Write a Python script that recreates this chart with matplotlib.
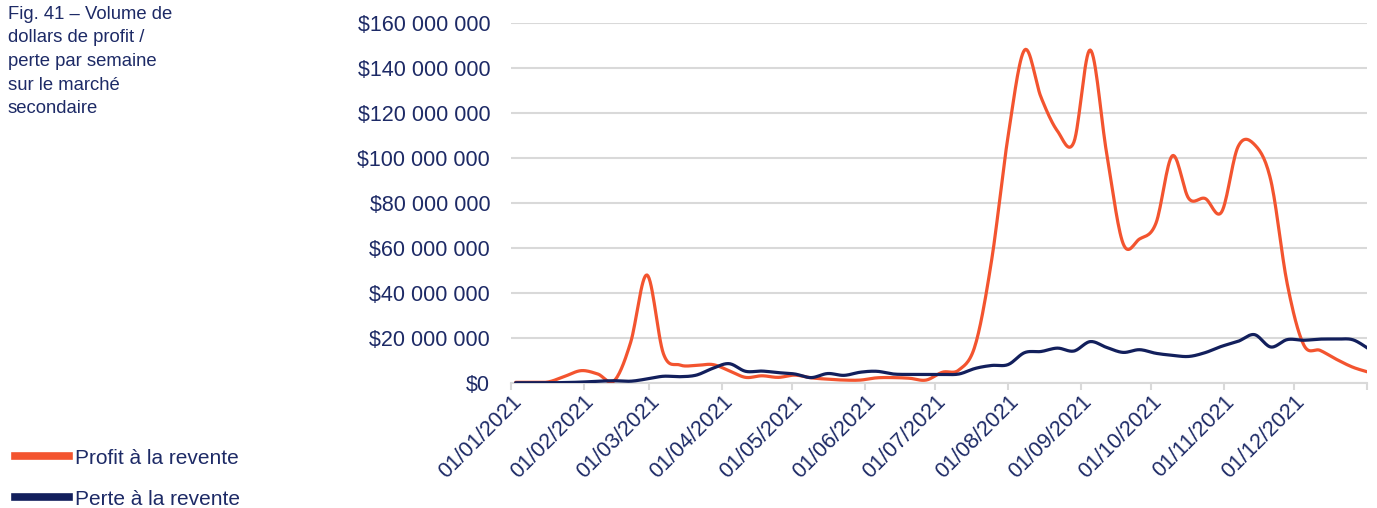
"""Weekly dollar volume of resale profit / loss on the secondary market (2021)."""

import matplotlib

matplotlib.use("Agg")
import matplotlib.dates as mdates  # noqa: E402
import matplotlib.pyplot as plt  # noqa: E402
import numpy as np  # noqa: E402
import pandas as pd  # noqa: E402
from matplotlib.lines import Line2D  # noqa: E402

# weekly values, in millions of dollars
weeks = pd.date_range("2021-01-03", periods=53, freq="7D")
profit = [0.3, 0.3, 0.5, 3.0, 5.5, 4.0, 1.0, 18.0, 48.0, 13.0,
          8.0, 7.8, 8.2, 5.5, 2.5, 3.2, 2.5, 3.5, 2.3, 1.7,
          1.3, 1.3, 2.3, 2.4, 2.1, 1.3, 4.8, 5.8, 17.0, 55.0,
          110.0, 148.0, 127.0, 112.0, 107.0, 148.0, 102.0, 62.0, 64.0, 71.0,
          101.0, 82.0, 82.0, 76.0, 105.0, 106.0, 90.0, 44.0, 17.0, 14.5,
          10.5, 7.0, 4.7]
loss = [0.1, 0.1, 0.1, 0.2, 0.4, 0.8, 1.0, 0.8, 1.8, 3.0,
        2.8, 3.5, 6.5, 8.6, 5.2, 5.3, 4.6, 4.0, 2.4, 4.2,
        3.4, 4.8, 5.2, 4.0, 3.8, 3.8, 3.8, 4.0, 6.5, 7.8,
        8.2, 13.5, 14.0, 15.5, 14.2, 18.4, 15.8, 13.6, 14.8, 13.2,
        12.3, 11.8, 13.5, 16.3, 18.5, 21.5, 16.0, 19.3, 19.0, 19.5,
        19.5, 19.2, 15.0]
series_labels = ["Profit à la revente", "Perte à la revente"]
title = "Fig. 41 – Volume de\ndollars de profit /\nperte par semaine\nsur le marché\nsecondaire"

ORANGE = "#f3542f"
NAVY = "#121f5c"
TEXT = "#1d2a66"
GRID = "#d9d9d9"

plt.rcParams["font.family"] = ["Liberation Sans", "DejaVu Sans"]


def smooth(x, y, n=16):
    """Catmull-Rom curve through the points (like a spreadsheet smoothed line)."""
    x = np.asarray(x, float)
    y = np.asarray(y, float)
    px = np.concatenate([[x[0]], x, [x[-1]]])
    py = np.concatenate([[y[0]], y, [y[-1]]])
    t = np.linspace(0, 1, n, endpoint=False)[:, None]
    out_x, out_y = [], []
    for i in range(1, len(px) - 2):
        for p, out in ((px, out_x), (py, out_y)):
            p0, p1, p2, p3 = p[i - 1], p[i], p[i + 1], p[i + 2]
            v = 0.5 * (2 * p1 + (-p0 + p2) * t
                       + (2 * p0 - 5 * p1 + 4 * p2 - p3) * t ** 2
                       + (-p0 + 3 * p1 - 3 * p2 + p3) * t ** 3)
            out.append(v.ravel())
    out_x.append([x[-1]])
    out_y.append([y[-1]])
    return np.concatenate(out_x), np.concatenate(out_y)


fig = plt.figure(figsize=(13.77, 5.08), dpi=100)
ax = fig.add_axes([511 / 1377, 1 - 383 / 508, (1367 - 511) / 1377, (383 - 23) / 508])

xnum = mdates.date2num(weeks)
for vals, color in ((profit, ORANGE), (loss, NAVY)):
    sx, sy = smooth(xnum, np.array(vals) * 1e6)
    ax.plot(sx, sy, color=color, lw=2.3, solid_capstyle="round", zorder=3)

ax.set_ylim(0, 160e6)
ax.set_yticks(np.arange(0, 160e6 + 1, 20e6))
ax.set_yticklabels([f"${v:,.0f}".replace(",", " ") for v in ax.get_yticks()])
ax.yaxis.grid(True, color=GRID, lw=1.5)
ax.set_axisbelow(True)

months = pd.date_range("2021-01-01", "2022-01-01", freq="MS")
ax.set_xlim(mdates.date2num(months[0]), mdates.date2num(months[-1]))
ax.set_xticks(mdates.date2num(months))
ax.set_xticklabels([d.strftime("%d/%m/%Y") for d in months[:-1]] + [""],
                   rotation=45, ha="right", va="top", rotation_mode="anchor")

for side in ("top", "right", "left"):
    ax.spines[side].set_visible(False)
ax.spines["bottom"].set_color(GRID)
ax.spines["bottom"].set_linewidth(1.5)
ax.tick_params(axis="y", length=0, pad=15, labelsize=15.5, labelcolor=TEXT)
ax.tick_params(axis="x", length=5, width=1.5, color=GRID, pad=1,
               labelsize=15.5, labelcolor=TEXT)

fig.text(8 / 1377, 1 - 6 / 508, title, ha="left", va="top", fontsize=13.3,
         color=TEXT, linespacing=1.5)

handles = [Line2D([], [], color=c, lw=5.5) for c in (ORANGE, NAVY)]
fig.legend(handles, series_labels, loc="lower left",
           bbox_to_anchor=(0.0, -0.03), frameon=False, fontsize=15,
           handlelength=2.6, handletextpad=0.3, labelspacing=1.05,
           labelcolor=TEXT, borderaxespad=0.3)

fig.savefig("out.png", dpi=100)
